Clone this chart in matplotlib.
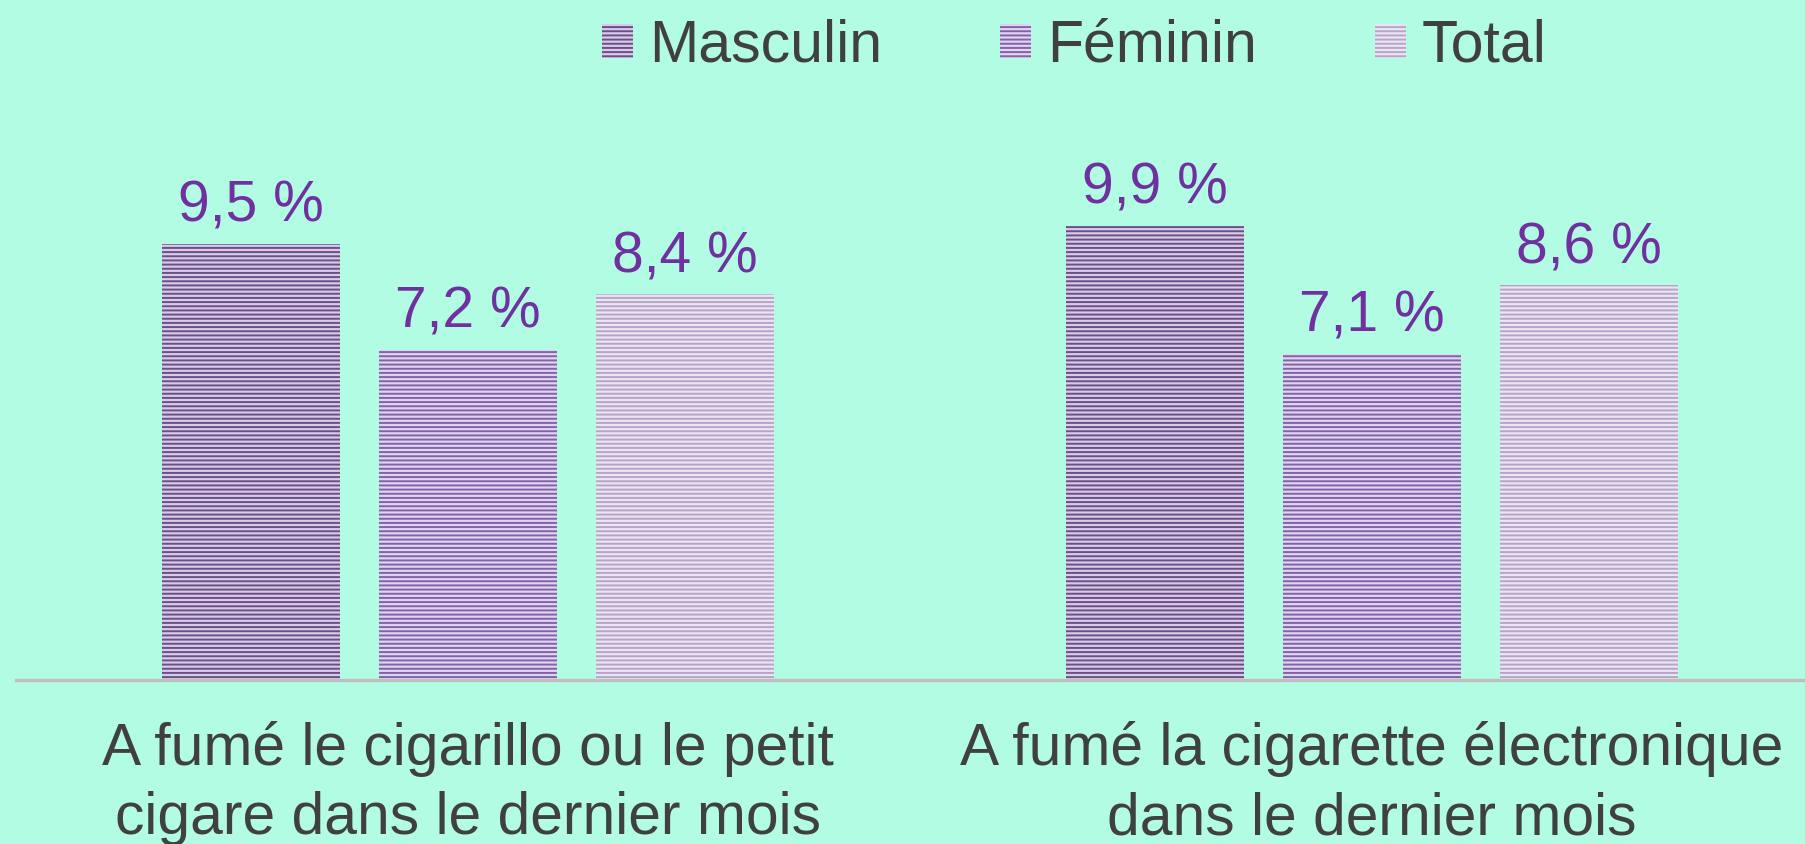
import matplotlib.pyplot as plt
from matplotlib.patches import Patch
import numpy as np

categories = ["A fumé le cigarillo ou le petit\ncigare dans le dernier mois",
              "A fumé la cigarette électronique\ndans le dernier mois"]
series = ["Masculin", "Féminin", "Total"]
masculin = [9.5, 9.9]
feminin = [7.2, 7.1]
total = [8.4, 8.6]
etiquettes = [["9,5 %", "7,2 %", "8,4 %"], ["9,9 %", "7,1 %", "8,6 %"]]

fond = "#b1fce3"
rayures = ["#6b5087", "#8062a8", "#b4a6c9"]
clairs = ["#d9cae8", "#e2d4f0", "#ece4f2"]

plt.rcParams['font.family'] = ['Liberation Sans', 'DejaVu Sans']
plt.rcParams['hatch.linewidth'] = 1.4

fig = plt.figure(figsize=(18.06, 8.44), dpi=100, facecolor=fond)
ax = fig.add_axes([16 / 1806, 164 / 844, 1 - 16 / 1806, 12 * 45.9 / 844])
ax.set_facecolor(fond)

x = np.arange(len(categories))
largeur = 0.197
pas = 0.24
valeurs = [masculin, feminin, total]
for i, vals in enumerate(valeurs):
    barres = ax.bar(x + (i - 1) * pas, vals, largeur, color=clairs[i],
                    edgecolor=rayures[i], hatch="----", linewidth=0, zorder=2)
    for j, b in enumerate(barres):
        ax.annotate(etiquettes[j][i], (b.get_x() + b.get_width() / 2, b.get_height()),
                    xytext=(0, 16), textcoords="offset points", ha="center",
                    va="baseline", fontsize=41, color="#7030a0")

ax.set_xlim(-0.5, 1.48)
ax.set_ylim(0, 12)
ax.set_yticks([])
ax.set_xticks(x)
ax.set_xticklabels(categories, fontsize=42.3, color="#404040", linespacing=1.33)
ax.tick_params(axis="x", length=0, pad=29.5)
for s in ["top", "right", "left"]:
    ax.spines[s].set_visible(False)
ax.spines["bottom"].set_color("#bfbfbf")
ax.spines["bottom"].set_linewidth(2.4)

poignees = [Patch(facecolor=clairs[i], edgecolor=rayures[i], hatch="----", linewidth=0)
            for i in range(3)]
fig.legend(poignees, series, loc="center", bbox_to_anchor=(0.595, 1 - 0.055),
           ncol=3, frameon=False, fontsize=42.5, handlelength=0.525, handleheight=0.525,
           handletextpad=0.27, columnspacing=2.0, borderpad=0, labelcolor="#404040")

fig.savefig("out.png", dpi=100, facecolor=fond)
